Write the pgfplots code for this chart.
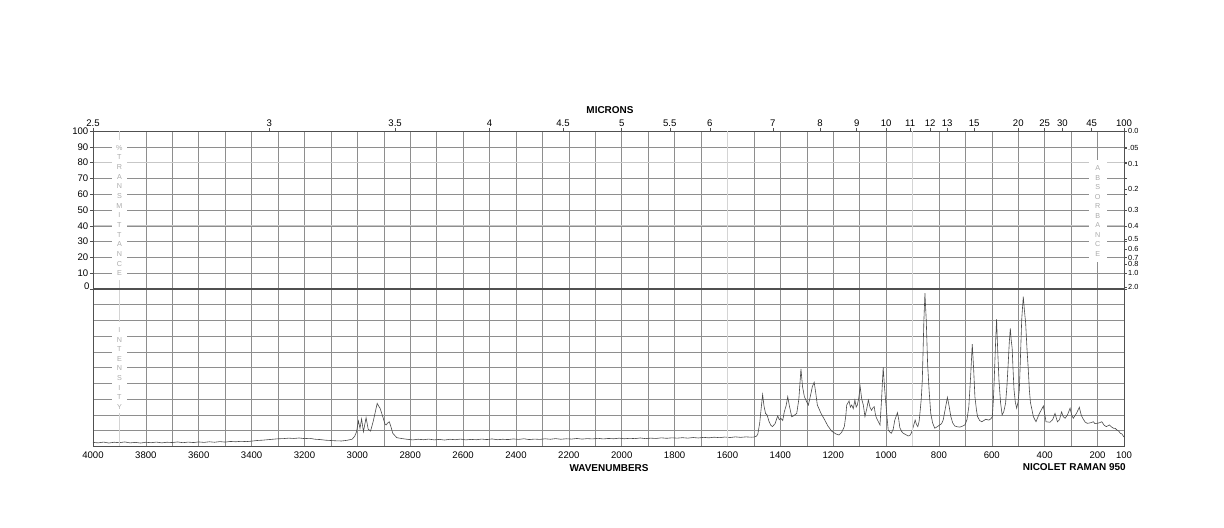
\documentclass[border=0pt]{standalone}
\usepackage{pgfplots}
\pgfplotsset{compat=1.18}
\usepackage{pgfplotstable}
\usepackage{fontspec}
\setmainfont{Liberation Sans}
\definecolor{gridc}{HTML}{8E8E8E}
\definecolor{lightc}{HTML}{D4D4D4}
\definecolor{framec}{HTML}{505050}
\definecolor{specc}{HTML}{4A4A4A}
\definecolor{letc}{HTML}{ABABAB}

\pgfplotstableread{
w I
4000 2.6
3980 2.3
3960 2.8
3940 2.2
3920 2.7
3900 2.4
3880 2.9
3860 2.3
3840 2.6
3820 2.2
3800 2.7
3780 2.4
3760 2.8
3740 2.3
3720 2.7
3700 2.5
3680 2.9
3660 2.4
3640 2.8
3620 2.5
3600 2.9
3580 2.6
3560 3.0
3540 2.7
3520 3.1
3500 2.8
3480 3.2
3460 3.0
3440 3.3
3420 3.1
3400 3.4
3380 3.8
3360 4.0
3340 4.3
3320 4.6
3300 4.9
3280 5.0
3260 5.3
3240 5.1
3220 5.4
3200 5.0
3180 5.2
3160 4.6
3140 4.4
3120 4.0
3100 3.8
3080 3.6
3060 3.5
3040 3.9
3020 4.6
3010 6.5
3003 9.4
2996 16.2
2990 11.5
2984 17.5
2977 9.4
2967 18.3
2959 11.0
2950 9.8
2940 16.0
2932 22.0
2925 27.4
2919 25.5
2914 24.3
2904 19.0
2895 14.0
2891 13.7
2885 15.0
2879 15.7
2872 12.0
2866 8.4
2851 5.6
2830 5.0
2813 4.6
2790 4.2
2770 4.6
2750 4.3
2730 4.7
2710 4.2
2690 4.5
2670 4.1
2650 4.6
2630 4.3
2610 4.7
2590 4.2
2570 4.5
2550 4.3
2530 4.7
2510 4.4
2490 4.8
2470 4.3
2450 4.6
2430 4.4
2410 4.8
2390 4.5
2370 4.9
2350 4.4
2330 4.7
2310 4.5
2290 4.9
2270 4.6
2250 5.0
2230 4.6
2210 4.9
2190 4.7
2170 5.1
2150 4.7
2130 5.0
2110 4.8
2090 5.2
2070 4.8
2050 5.1
2030 4.9
2010 5.3
1990 4.9
1970 5.2
1950 5.0
1930 5.4
1910 5.0
1890 5.3
1870 5.1
1850 5.5
1830 5.2
1810 5.5
1790 5.3
1770 5.6
1750 5.3
1730 5.7
1710 5.4
1690 5.8
1670 5.5
1650 5.9
1630 5.6
1610 6.0
1590 5.7
1570 6.1
1550 5.8
1530 6.1
1510 5.9
1500 6.0
1490 6.6
1485 8.0
1478 15.0
1472 25.0
1467 33.0
1462 26.0
1456 21.0
1450 20.0
1443 16.0
1436 13.5
1430 12.6
1420 14.5
1410 19.4
1404 17.0
1398 17.9
1391 16.5
1385 22.0
1378 26.0
1372 31.6
1366 26.0
1357 18.9
1350 19.5
1338 21.0
1330 30.0
1322 49.2
1316 38.0
1309 31.6
1302 29.0
1294 26.3
1285 33.0
1279 38.0
1272 40.8
1266 34.0
1260 26.3
1246 21.0
1232 16.8
1220 13.0
1206 9.8
1190 8.0
1178 7.3
1168 9.0
1158 12.6
1152 20.0
1149 26.3
1140 28.9
1135 25.0
1130 26.3
1124 24.0
1118 29.5
1113 25.0
1109 26.3
1104 30.0
1098 38.0
1092 30.0
1086 26.3
1080 19.0
1073 24.0
1067 29.5
1061 25.0
1055 23.0
1050 24.5
1045 25.3
1040 20.0
1036 18.0
1030 16.0
1023 13.7
1017 30.0
1011 50.3
1006 38.0
1002 29.5
996 18.0
992 10.5
985 9.0
980 8.4
973 11.0
967 16.8
960 20.0
957 21.5
952 17.0
948 12.0
941 9.5
935 8.4
925 7.5
917 6.7
910 7.0
905 8.4
898 12.0
890 16.8
885 14.0
880 12.6
875 16.0
872 21.0
867 30.0
863 42.0
857 80.0
853 97.3
848 80.0
843 52.8
837 35.0
831 21.0
824 15.0
816 11.6
806 12.6
797 13.7
790 14.5
784 16.8
776 24.0
768 31.2
762 26.0
755 19.0
748 15.0
740 13.0
730 12.5
721 12.3
710 13.0
702 13.7
694 17.0
687 25.3
680 45.0
674 65.0
669 50.0
664 31.6
658 23.0
654 19.0
646 16.5
638 15.7
630 16.5
623 17.3
617 17.0
611 16.8
604 17.5
598 19.0
594 30.0
591 42.0
586 65.0
582 80.8
578 62.0
573 42.0
567 28.0
561 20.0
555 22.0
548 27.4
543 38.0
538 52.8
534 66.0
530 75.0
527 68.0
523 62.3
520 50.0
516 35.9
511 28.0
506 24.3
501 28.0
496 36.0
492 55.0
487 80.3
484 88.0
481 95.1
477 87.0
472 78.2
467 62.0
462 48.6
458 36.0
454 28.0
449 24.0
443 19.0
433 15.7
420 21.0
405 25.7
395 15.7
380 15.4
370 17.0
361 21.0
352 15.7
344 17.0
336 22.0
330 19.0
323 17.9
314 20.0
304 24.3
298 20.0
292 17.9
280 21.0
269 24.9
262 20.0
256 17.9
247 15.5
239 14.7
228 15.0
216 15.7
210 14.5
203 14.7
194 15.0
184 15.7
175 13.5
167 12.6
160 13.2
155 13.7
148 12.5
140 11.6
133 11.5
127 10.5
120 9.8
114 8.4
108 8.0
101 6.2
100 6.0
}\spectrum

\pgfplotsset{
  chartbase/.style={
    scale only axis, width=1031bp,
    xmin=100, xmax=4000, x dir=reverse,
    ymin=0, ymax=100,
    /pgf/number format/assume math mode=true,
    tick label style={font=\fontsize{9.6}{10}\selectfont, text=black},
    axis line style={framec, line width=0.8bp},
    major grid style={gridc, line width=0.5bp},
    minor grid style={gridc, line width=0.5bp},
  }
}

\begin{document}
\begin{tikzpicture}[x=1bp,y=1bp]
\path[use as bounding box] (0,0) rectangle (1224,528);

% upper panel (% transmittance)
\begin{axis}[chartbase,
  at={(93bp,239bp)}, anchor=south west, height=158bp,
  xtick={100,200,...,4000}, xticklabels={}, xtick style={draw=none},
  ytick={0,10,...,100},
  yticklabels={,10,20,30,40,50,60,70,80,90,100},
  ytick style={framec, line width=0.5bp},
  tick align=outside, major tick length=3bp,
  yticklabel style={inner xsep=1.5bp},
  grid=major,
]
\end{axis}

% microns top axis
\begin{axis}[chartbase,
  at={(93bp,239bp)}, anchor=south west, height=158bp,
  axis x line*=top, axis y line=none,
  xtick={4000,3333.33,2857.14,2500,2222.22,2000,1818.18,1666.67,1428.57,1250,1111.11,1000,909.09,833.33,769.23,666.67,500,400,333.33,222.22,100},
  xticklabels={2.5,3,3.5,4,4.5,5,5.5,6,7,8,9,10,11,12,13,15,20,25,30,45,100},
  xtick style={framec, line width=0.5bp},
  tick align=outside, major tick length=3bp,
  xticklabel style={inner ysep=1.5bp},
]
\end{axis}

% absorbance right axis
\begin{axis}[chartbase,
  at={(93bp,239bp)}, anchor=south west, height=158bp,
  axis y line*=right, axis x line=none,
  ytick={100,89.125,79.433,63.096,50.119,39.811,31.623,25.119,19.953,15.849,10,1},
  yticklabels={0.0,.05,0.1,0.2,0.3,0.4,0.5,0.6,0.7,0.8,1.0,2.0},
  yticklabel style={font=\fontsize{7.4}{8}\selectfont, inner xsep=1.5bp},
  ytick style={framec, line width=0.5bp},
  tick align=outside, major tick length=2.5bp,
]
\end{axis}

% lower panel (Raman intensity)
\begin{axis}[chartbase,
  at={(93bp,81.5bp)}, anchor=south west, height=157.5bp,
  xtick={4000,3800,3600,3400,3200,3000,2800,2600,2400,2200,2000,1800,1600,1400,1200,1000,800,600,400,200,100},
  xticklabels={4000,3800,3600,3400,3200,3000,2800,2600,2400,2200,2000,1800,1600,1400,1200,1000,800,600,400,200,100},
  minor xtick={100,200,...,4000},
  major tick length=0pt, minor tick length=0pt,
  ytick={0,10,...,100}, yticklabels={},
  xticklabel style={yshift=-1.5bp},
  grid=both,
]
\addplot[specc, line width=0.6bp, no marks] table[x=w, y=I] {\spectrum};
\end{axis}

% lighter grid lines
\foreach \yy in {365.4, 302.2} {
  \draw[lightc!85!gray, line width=0.9bp] (93.5,\yy) -- (1123.5,\yy);
}
\foreach \xx in {119.4, 727.5, 912.6} {
  \draw[lightc, line width=1.3bp] (\xx,81.9) -- (\xx,238.4);
  \draw[lightc, line width=1.3bp] (\xx,239.6) -- (\xx,396.6);
}

% central zero line
\draw[framec, line width=1.3bp] (93,239) -- (1124,239);
\node[anchor=east, font=\fontsize{9.6}{10}\selectfont, inner sep=0pt] at (89.6,242) {0};

% vertical label columns
\fill[white] (112,248) rectangle (127,387.5);
\fill[white] (112,115) rectangle (127,206);
\fill[white] (1089,266) rectangle (1106.5,368);
\begin{scope}[every node/.style={font=\fontsize{7.2}{8}\selectfont, text=letc, inner sep=0pt}]
\foreach \c [count=\i from 0] in {\%,T,R,A,N,S,M,I,T,T,A,N,C,E}
  \node at (119.4, 380.3-\i*9.67) {\c};
\foreach \c [count=\i from 0] in {I,N,T,E,N,S,I,T,Y}
  \node at (119.4, 198-\i*9.6) {\c};
\foreach \c [count=\i from 0] in {A,B,S,O,R,B,A,N,C,E}
  \node at (1097.7, 360-\i*9.55) {\c};
\end{scope}

% titles
\node[font=\fontsize{10}{12}\selectfont\bfseries] at (610,418) {MICRONS};
\node[font=\fontsize{10}{12}\selectfont\bfseries] at (609,60) {WAVENUMBERS};
\node[font=\fontsize{10}{12}\selectfont\bfseries] at (1074.3,60.5) {NICOLET RAMAN 950};
\end{tikzpicture}
\end{document}
